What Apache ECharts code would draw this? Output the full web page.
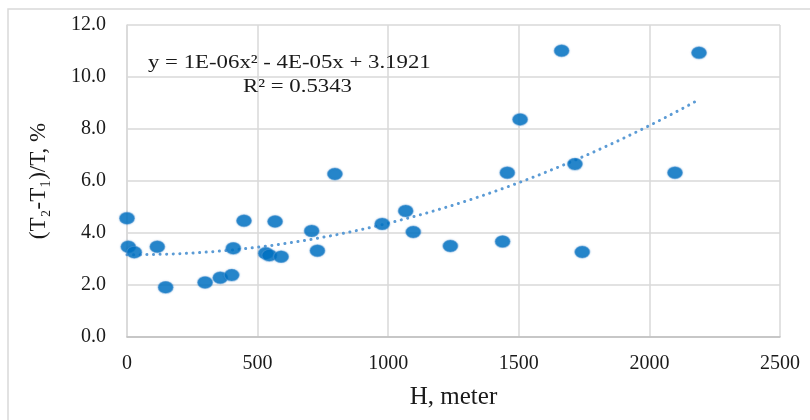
<!DOCTYPE html>
<html>
<head>
<meta charset="utf-8">
<script src="https://cdn.jsdelivr.net/npm/echarts@6/dist/echarts.min.js"></script>
<style>
  html, body { margin: 0; padding: 0; background: #fff; }
  #chart { width: 810px; height: 420px; }
</style>
</head>
<body>
<div id="chart"></div>
<script>
// H, meter
var heightM = [0, 5, 28, 116, 148, 299, 357, 401, 407, 448, 531, 545, 567, 590, 707, 729, 796,
               977, 1067, 1096, 1238, 1438, 1456, 1505, 1664, 1715, 1743, 2098, 2190];
// (T2-T1)/T, %
var ratioPct = [4.57, 3.47, 3.26, 3.47, 1.91, 2.10, 2.28, 2.38, 3.41, 4.47, 3.22, 3.14, 4.44, 3.09, 4.08, 3.32, 6.27,
                4.35, 4.85, 4.04, 3.50, 3.67, 6.32, 8.37, 11.01, 6.65, 3.27, 6.32, 10.93];
var xTicks = [0, 500, 1000, 1500, 2000, 2500];
var yTicks = [0, 2, 4, 6, 8, 10, 12];

var points = [];
heightM.forEach(function (h, i) {
    points.push([h, ratioPct[i]]);
});

// polynomial (order 2) trendline, least squares like the spreadsheet does
function quadFit(xs, ys) {
    var s = [0, 0, 0, 0, 0], t = [0, 0, 0];
    xs.forEach(function (x, i) {
        var p = 1;
        for (var k = 0; k < 5; k++) { s[k] += p; if (k < 3) t[k] += p * ys[i]; p *= x; }
    });
    var m = [[s[0], s[1], s[2], t[0]], [s[1], s[2], s[3], t[1]], [s[2], s[3], s[4], t[2]]];
    for (var c = 0; c < 3; c++) {
        for (var r = c + 1; r < 3; r++) {
            var f = m[r][c] / m[c][c];
            for (var k = c; k < 4; k++) m[r][k] -= f * m[c][k];
        }
    }
    var coef = [0, 0, 0];
    for (var r = 2; r >= 0; r--) {
        var v = m[r][3];
        for (var k = r + 1; k < 3; k++) v -= m[r][k] * coef[k];
        coef[r] = v / m[r][r];
    }
    return coef; // c0, c1, c2
}
var coef = quadFit(heightM, ratioPct);
var trend = [];
var xMin = Math.min.apply(null, heightM), xMax = Math.max.apply(null, heightM);
for (var i = 0; i <= 60; i++) {
    var x = xMin + (xMax - xMin) * i / 60;
    trend.push([x, coef[0] + coef[1] * x + coef[2] * x * x]);
}

var serif = '"Liberation Serif", "Times New Roman", serif';
var chart = echarts.init(document.getElementById('chart'));
chart.setOption({
    animation: false,
    backgroundColor: '#fff',
    grid: { left: 127, top: 25, right: 30, bottom: 83 },
    graphic: [
        { type: 'rect', shape: { x: 8, y: 9, width: 830, height: 440 },
          style: { fill: 'none', stroke: '#d9d9d9', lineWidth: 1.5 }, z: -1 },
        { type: 'text', x: 148, y: 63, scaleX: 1.2, z: 10,
          style: { text: 'y = 1E-06x² - 4E-05x + 3.1921', font: '19px ' + serif, fill: '#1a1a1a',
                   verticalAlign: 'middle' } },
        { type: 'text', x: 243, y: 87, scaleX: 1.2, z: 10,
          style: { text: 'R² = 0.5343', font: '19px ' + serif, fill: '#1a1a1a',
                   verticalAlign: 'middle' } }
    ],
    xAxis: {
        type: 'value', min: xTicks[0], max: xTicks[xTicks.length - 1], interval: 500,
        name: 'H, meter', nameLocation: 'middle', nameGap: 48,
        nameTextStyle: { fontFamily: serif, fontSize: 25, color: '#1a1a1a' },
        axisLine: { show: true, lineStyle: { color: '#bfbfbf', width: 1.5 } },
        axisTick: { show: false },
        axisLabel: { fontFamily: serif, fontSize: 20, color: '#1a1a1a', margin: 17,
                     formatter: function (v) { return String(v); } },
        splitLine: { show: true, lineStyle: { color: '#d9d9d9', width: 1.5 } }
    },
    yAxis: {
        type: 'value', min: yTicks[0], max: yTicks[yTicks.length - 1], interval: 2,
        name: '(T₂-T₁)/T, %', nameLocation: 'middle', nameGap: 77, nameRotate: 90,
        nameTextStyle: { fontFamily: serif, fontSize: 23, color: '#1a1a1a' },
        axisLine: { show: true, lineStyle: { color: '#d9d9d9', width: 1.5 } },
        axisTick: { show: false },
        axisLabel: { fontFamily: serif, fontSize: 20, color: '#1a1a1a', margin: 21,
                     formatter: function (v) { return v.toFixed(1); } },
        splitLine: { show: true, lineStyle: { color: '#d9d9d9', width: 1.5 } }
    },
    series: [
        {
            type: 'line', data: trend, showSymbol: false, smooth: false, z: 3,
            lineStyle: { color: '#5b9bd5', width: 3, type: [0.1, 6.5], cap: 'round' }
        },
        {
            type: 'scatter', data: points, symbol: 'circle', symbolSize: [15, 12], z: 4,
            itemStyle: { color: '#0070c0', borderColor: 'rgba(91,155,213,0.6)', borderWidth: 1,
                         shadowColor: 'rgba(0,112,192,0.35)', shadowBlur: 2 }
        }
    ]
});
</script>
</body>
</html>
